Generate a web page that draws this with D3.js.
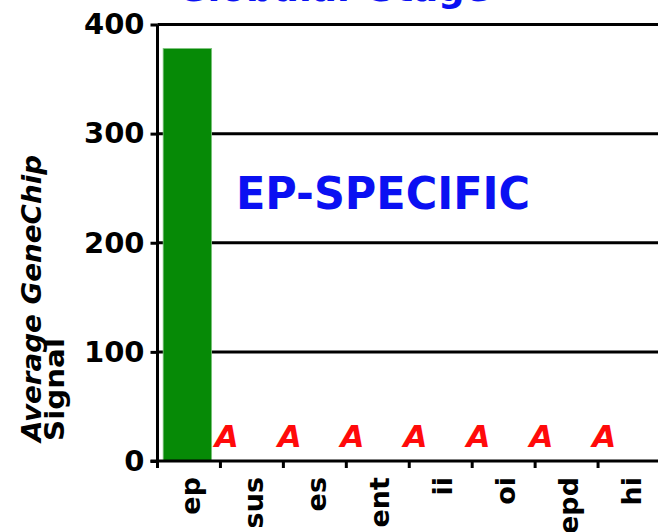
<!DOCTYPE html>
<html>
<head>
<meta charset="utf-8">
<script src="https://cdn.jsdelivr.net/npm/d3@7"></script>
<style>
  html, body { margin: 0; padding: 0; background: #fff; }
  svg { display: block; }
  text { font-family: "Comic Sans MS", "DejaVu Sans", sans-serif; }
</style>
</head>
<body>
<svg id="chart" width="658" height="532"></svg>
<script>
// Tissue compartments at the globular stage
const categories = ["ep", "sus", "es", "ent", "ii", "oi", "epd", "hi"];
// Average GeneChip signal per compartment (null = called absent)
const signalValues = [378, null, null, null, null, null, null, null];
const absentMark = "A";
const yTicks = [0, 100, 200, 300, 400];
const gridValues = [100, 200, 300, 400];
const titleText = "Globular Stage";
const annotationText = "EP-SPECIFIC";
const yLabelLines = ["Average GeneChip", "Signal"];

const svg = d3.select("#chart");
const W = 658, H = 532;

const x = d3.scaleBand().domain(categories).range([157.5, 661]);
const y = d3.scaleLinear().domain([0, 400]).range([461, 24.5]);
const bw = x.bandwidth();

const data = categories.map((c, i) => ({ cat: c, value: signalValues[i] }));

// Title, running off the top edge
svg.append("text")
  .attr("x", 177).attr("y", 1)
  .attr("font-size", 37).attr("font-weight", "bold")
  .attr("fill", "#0a10f2")
  .attr("textLength", 313).attr("lengthAdjust", "spacingAndGlyphs")
  .text(titleText);

// Horizontal gridlines
svg.append("g").selectAll("line").data(gridValues).join("line")
  .attr("x1", 157.5).attr("x2", W)
  .attr("y1", d => y(d)).attr("y2", d => y(d))
  .attr("stroke", "#000").attr("stroke-width", 3);

// Bars for present calls
svg.append("g").selectAll("rect").data(data.filter(d => d.value != null)).join("rect")
  .attr("x", d => x(d.cat) + bw * 0.09)
  .attr("width", bw * 0.77)
  .attr("y", d => y(d.value))
  .attr("height", d => y(0) - y(d.value))
  .attr("fill", "#068a06")
  .attr("stroke", "#7fc47f").attr("stroke-width", 0.8);

// Absent-call markers
svg.append("g").selectAll("text").data(data.filter(d => d.value == null)).join("text")
  .attr("x", d => x(d.cat) + bw * 0.1)
  .attr("y", y(0) - 14)
  .attr("text-anchor", "middle")
  .attr("font-size", 31).attr("font-weight", "bold").attr("font-style", "italic")
  .attr("fill", "#ff0a0a")
  .text(absentMark);

// Y axis
const yAxis = d3.axisLeft(y).tickValues(yTicks).tickSize(7).tickPadding(6);
const gy = svg.append("g").attr("transform", "translate(157.5,0)").call(yAxis);
gy.select(".domain").remove();
gy.selectAll(".tick line").attr("stroke", "#000").attr("stroke-width", 3);
gy.selectAll(".tick text")
  .attr("font-family", "'Comic Sans MS', 'DejaVu Sans', sans-serif")
  .attr("font-size", 29).attr("font-weight", "bold").attr("fill", "#000");
gy.append("line")
  .attr("x1", 0).attr("x2", 0).attr("y1", y(400)).attr("y2", y(0) + 1.5)
  .attr("stroke", "#000").attr("stroke-width", 3);

// X axis line, boundary ticks and rotated category labels
const gx = svg.append("g");
gx.append("line")
  .attr("x1", 150.5).attr("x2", W).attr("y1", y(0)).attr("y2", y(0))
  .attr("stroke", "#000").attr("stroke-width", 3);
gx.selectAll("line.tick").data(categories).join("line")
  .attr("class", "tick")
  .attr("x1", d => x(d)).attr("x2", d => x(d))
  .attr("y1", y(0)).attr("y2", y(0) + 7)
  .attr("stroke", "#000").attr("stroke-width", 3);
gx.selectAll("text").data(categories).join("text")
  .attr("transform", d => `translate(${x(d) + bw / 2},477) rotate(-90)`)
  .attr("text-anchor", "end")
  .attr("dy", "0.42em")
  .attr("font-size", 27).attr("font-weight", "bold").attr("fill", "#000")
  .text(d => d);

// Annotation
svg.append("text")
  .attr("x", 236).attr("y", 209)
  .attr("font-size", 44).attr("font-weight", "bold")
  .attr("fill", "#0a10f2")
  .attr("textLength", 294).attr("lengthAdjust", "spacingAndGlyphs")
  .text(annotationText);

// Y axis title, two lines
svg.append("text")
  .attr("transform", "translate(41,442) rotate(-90)")
  .attr("font-size", 26).attr("font-weight", "bold").attr("font-style", "italic")
  .attr("fill", "#000")
  .attr("textLength", 287).attr("lengthAdjust", "spacingAndGlyphs")
  .text(yLabelLines[0]);
svg.append("text")
  .attr("transform", "translate(64,441) rotate(-90)")
  .attr("font-size", 26).attr("font-weight", "bold")
  .attr("fill", "#000")
  .attr("textLength", 103).attr("lengthAdjust", "spacingAndGlyphs")
  .text(yLabelLines[1]);
</script>
</body>
</html>
